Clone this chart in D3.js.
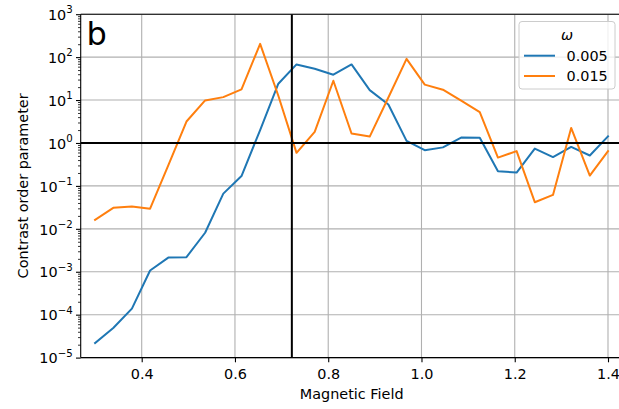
<!DOCTYPE html>
<html>
<head>
<meta charset="utf-8">
<script src="https://cdn.jsdelivr.net/npm/d3@7"></script>
<style>
html,body{margin:0;padding:0;background:#fff;}
svg text{font-family:"DejaVu Sans",sans-serif;}
</style>
</head>
<body>
<svg id="chart" width="619" height="409"></svg>
<script>
const fields = [0.3, 0.339, 0.379, 0.418, 0.457, 0.496, 0.536, 0.575, 0.614, 0.654, 0.693, 0.732, 0.771, 0.811, 0.85, 0.889, 0.929, 0.968, 1.007, 1.046, 1.086, 1.125, 1.164, 1.204, 1.243, 1.282, 1.321, 1.361, 1.4];
const omega005 = [2.19e-5, 4.9e-5, 1.38e-4, 1.07e-3, 2.14e-3, 2.19e-3, 8.1e-3, 0.066, 0.17, 2.0, 24, 67.6, 53.7, 38.9, 67.6, 17.0, 7.9, 1.12, 0.68, 0.79, 1.35, 1.33, 0.22, 0.204, 0.74, 0.47, 0.81, 0.51, 1.43];
const omega015 = [0.0162, 0.0309, 0.0331, 0.0295, 0.302, 3.16, 9.8, 11.7, 17.8, 204, 12.6, 0.589, 1.82, 28.2, 1.66, 1.41, 11.5, 91.2, 22.9, 17.4, 9.55, 5.25, 0.457, 0.646, 0.0417, 0.0617, 2.24, 0.174, 0.646];
const seriesNames = ["0.005", "0.015"];
const seriesColors = ["#1f77b4", "#ff7f0e"];
const xTicks = [0.4, 0.6, 0.8, 1.0, 1.2, 1.4];
const yTickExps = [-5, -4, -3, -2, -1, 0, 1, 2, 3];
const criticalField = 0.722;
const thresholdValue = 1;

const svg = d3.select("#chart");
const L = 80.7, R = 622.7, T = 14.2, B = 357.6;
const FS = 14.4;

const x = d3.scaleLinear().domain([0.4, 1.4]).range([141.7, 608.0]);
const y = d3.scaleLog().domain([1e-5, 1e3]).range([B, T]);

// grid
const grid = svg.append("g");
xTicks.forEach(t => grid.append("line").attr("x1", x(t)).attr("x2", x(t)).attr("y1", T).attr("y2", B)
  .attr("stroke", "#b0b0b0").attr("stroke-width", 1.1));
yTickExps.forEach(e => grid.append("line").attr("x1", L).attr("x2", R).attr("y1", y(Math.pow(10, e))).attr("y2", y(Math.pow(10, e)))
  .attr("stroke", "#b0b0b0").attr("stroke-width", 1.1));

// clip
svg.append("clipPath").attr("id", "clip").append("rect").attr("x", L).attr("y", T).attr("width", R - L).attr("height", B - T);

const line = d3.line().x(d => x(d[0])).y(d => y(d[1]));
const plot = svg.append("g").attr("clip-path", "url(#clip)");
[omega005, omega015].forEach((s, i) => {
  plot.append("path").datum(fields.map((f, j) => [f, s[j]]))
    .attr("d", line).attr("fill", "none").attr("stroke", seriesColors[i])
    .attr("stroke-width", 2).attr("stroke-linejoin", "round").attr("stroke-linecap", "square");
});

// reference lines
plot.append("line").attr("x1", L).attr("x2", R).attr("y1", y(thresholdValue)).attr("y2", y(thresholdValue))
  .attr("stroke", "#000").attr("stroke-width", 2);
plot.append("line").attr("x1", x(criticalField)).attr("x2", x(criticalField)).attr("y1", T).attr("y2", B)
  .attr("stroke", "#000").attr("stroke-width", 2);

// axes
const xAxis = d3.axisBottom(x).tickValues(xTicks).tickFormat(d3.format(".1f")).tickSize(4.7).tickPadding(6.3);
const gx = svg.append("g").attr("transform", `translate(0,${B})`).call(xAxis);
gx.select(".domain").remove();
gx.selectAll(".tick line").attr("stroke", "#000").attr("stroke-width", 1.1);
gx.selectAll(".tick text").attr("font-size", FS).attr("fill", "#000").attr("font-family", "DejaVu Sans");

const minorVals = [];
for (let e = -5; e < 3; e++) for (let k = 2; k <= 9; k++) minorVals.push(k * Math.pow(10, e));
const yMinor = d3.axisLeft(y).tickValues(minorVals).tickFormat("").tickSize(2.7);
const gym = svg.append("g").attr("transform", `translate(${L},0)`).call(yMinor);
gym.select(".domain").remove();
gym.selectAll(".tick line").attr("stroke", "#000").attr("stroke-width", 0.8);

const yAxis = d3.axisLeft(y).tickValues(yTickExps.map(e => Math.pow(10, e))).tickFormat("").tickSize(4.7);
const gy = svg.append("g").attr("transform", `translate(${L},0)`).call(yAxis);
gy.select(".domain").remove();
gy.selectAll(".tick line").attr("stroke", "#000").attr("stroke-width", 1.1);
gy.selectAll(".tick").each(function(d) {
  const e = Math.round(Math.log10(d));
  const t = d3.select(this).append("text").attr("x", -8).attr("y", 5.2).attr("text-anchor", "end")
    .attr("font-size", FS).attr("fill", "#000");
  t.append("tspan").text("10");
  t.append("tspan").attr("dy", -6.5).attr("font-size", 10.2).text(e < 0 ? "\u2212" + Math.abs(e) : String(e));
});

// spines
svg.append("line").attr("x1", L).attr("x2", L).attr("y1", T).attr("y2", B).attr("stroke", "#000").attr("stroke-width", 1.1);
svg.append("line").attr("x1", L).attr("x2", R).attr("y1", B).attr("y2", B).attr("stroke", "#000").attr("stroke-width", 1.1);
svg.append("line").attr("x1", L).attr("x2", R).attr("y1", T).attr("y2", T).attr("stroke", "#000").attr("stroke-width", 1.1);

// labels
svg.append("text").attr("x", (L + R) / 2).attr("y", 398.5).attr("text-anchor", "middle").attr("font-size", FS).text("Magnetic Field");
svg.append("text").attr("transform", `translate(28,${(T + B) / 2}) rotate(-90)`).attr("text-anchor", "middle")
  .attr("font-size", FS).text("Contrast order parameter");
svg.append("text").attr("x", 86.5).attr("y", 45).attr("font-size", 32).text("b");

// legend
const lg = svg.append("g");
lg.append("rect").attr("x", 519).attr("y", 21.5).attr("width", 96).attr("height", 67.5).attr("rx", 3)
  .attr("fill", "#fff").attr("fill-opacity", 0.8).attr("stroke", "#cccccc").attr("stroke-width", 1);
lg.append("text").attr("x", 567).attr("y", 40).attr("text-anchor", "middle").attr("font-size", FS).attr("font-style", "italic").text("\u03c9");
seriesNames.forEach((n, i) => {
  const yy = 55.7 + i * 20.3;
  lg.append("line").attr("x1", 524).attr("x2", 555).attr("y1", yy).attr("y2", yy).attr("stroke", seriesColors[i]).attr("stroke-width", 2);
  lg.append("text").attr("x", 566.5).attr("y", yy + 5).attr("font-size", FS).text(n);
});
</script>
</body>
</html>
